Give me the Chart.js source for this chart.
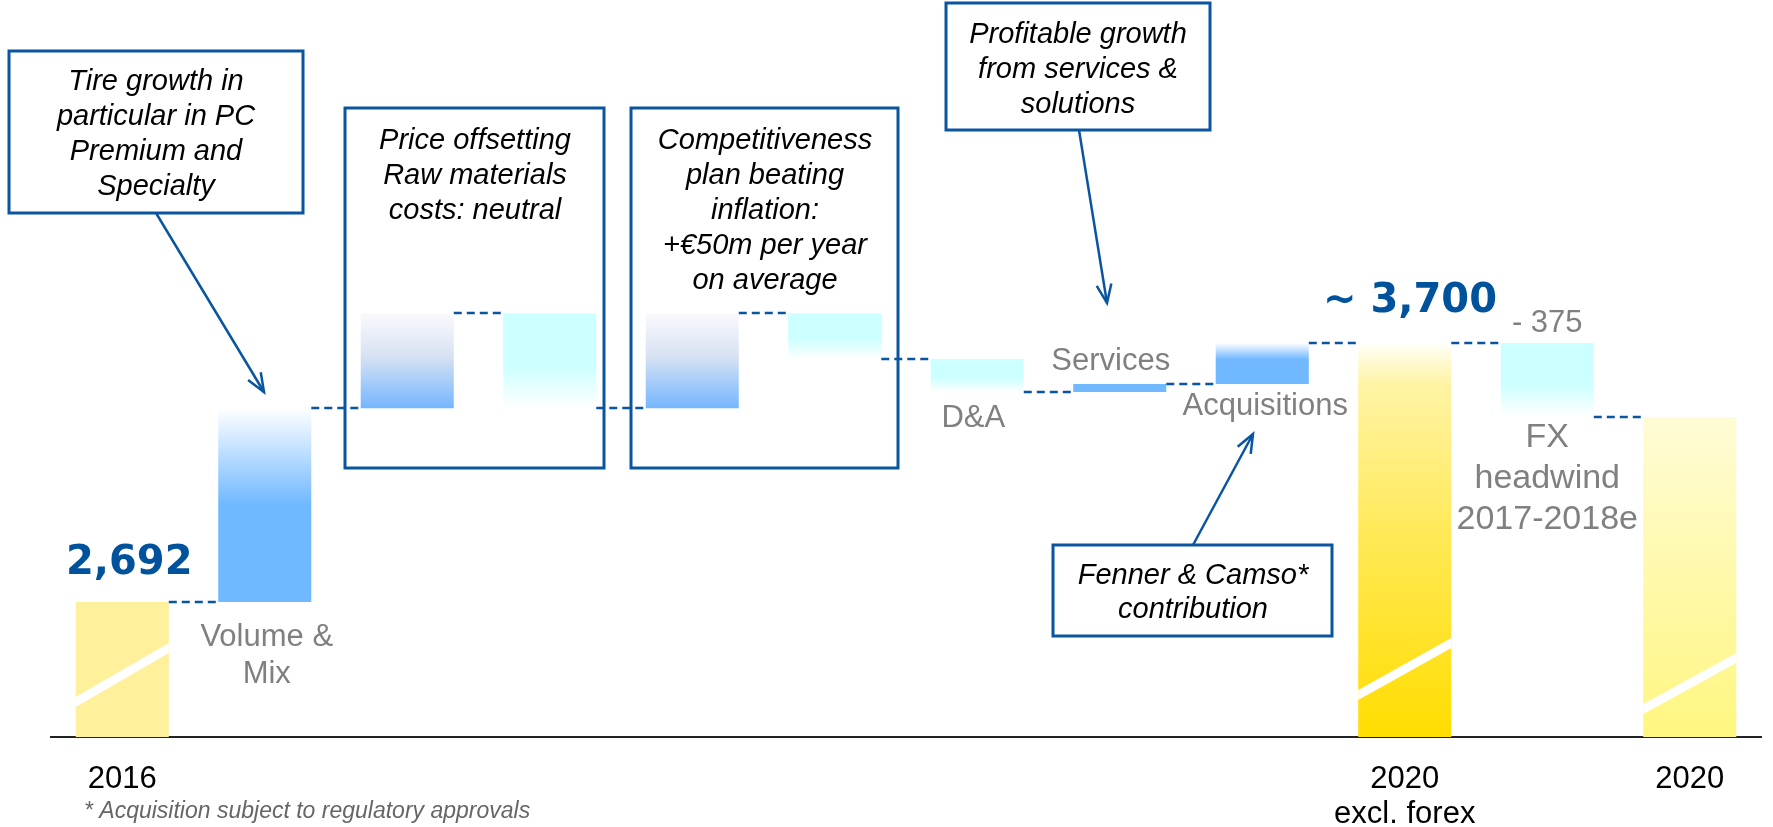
<!DOCTYPE html>
<html>
<head>
<meta charset="utf-8">
<script src="https://cdn.jsdelivr.net/npm/chart.js@4.4.1/dist/chart.umd.min.js"></script>
<style>
html, body { margin: 0; padding: 0; background: #fff; overflow: hidden; }
canvas { display: block; }
</style>
</head>
<body>
<canvas id="bridge" width="1773" height="827"></canvas>
<script>
// EBITDA bridge 2016 -> 2020 (EUR m). Steps as drawn, axis is broken below axisBreak
const categories = ['2016', 'Volume & Mix', 'Price', 'Raw materials', 'Competitiveness', 'Inflation',
                    'D&A', 'Services', 'Acquisitions', '2020 excl. forex', 'FX', '2020'];
const steps = [2692, 754, 370, -370, 370, -179, -128, 31, 160, null, -288, null]; // null = subtotal
const tickLabels = ['2016', '', '', '', '', '', '', '', '', ['2020', 'excl. forex'], '', '2020'];
const axisBreak = 2166;
const axisTop = 5035;

// turn the steps into floating bars [from, to]
let running = 0;
const bars = steps.map((s, i) => {
    if (i === 0) { running = s; return [axisBreak, s]; }
    if (s === null) return [axisBreak, running];
    const from = running;
    running += s;
    return [from, running];
});

const BLUE = '#0A55A0';
const GREY = '#808080';

const gradients = {
    base:   [[0, '#FFF09B'], [1, '#FFF09B']],
    up:     [[0, '#FFFFFF'], [0.5, '#70B8FF'], [1, '#70B8FF']],
    upGray: [[0, '#FAFAFD'], [0.45, '#D8E2F2'], [1, '#74B6FF']],
    down:   [[0, '#CCFFFF'], [0.55, '#CCFFFF'], [1, '#FFFFFF']],
    solid:  [[0, '#70B8FF'], [1, '#70B8FF']],
    upFade: [[0, '#FFFFFF'], [0.4, '#70B8FF'], [1, '#70B8FF']],
    total:  [[0, '#FFFFFA'], [0.1, '#FFF4A6'], [0.5, '#FFE955'], [1, '#FFDD00']],
    final:  [[0, '#FFFCD6'], [1, '#FFF680']]
};
const fills = ['base', 'up', 'upGray', 'down', 'upGray', 'down', 'down', 'solid', 'upFade', 'total', 'down', 'final'];

function barFill(c) {
    const chart = c.chart;
    if (!chart.chartArea) return '#70B8FF';
    const y = chart.scales.y;
    const [a, b] = bars[c.dataIndex];
    const top = y.getPixelForValue(Math.max(a, b));
    const bot = y.getPixelForValue(Math.min(a, b));
    const g = chart.ctx.createLinearGradient(0, top, 0, bot + 0.01);
    gradients[fills[c.dataIndex]].forEach(([p, col]) => g.addColorStop(p, col));
    return g;
}

// white "axis break" stripes and dashed connectors between bars
const bridgeLines = {
    id: 'bridgeLines',
    afterDatasetsDraw(chart) {
        const ctx = chart.ctx;
        const meta = chart.getDatasetMeta(0);
        const y = chart.scales.y;
        ctx.save();

        const stripes = { 0: [35, 89], 9: [42, 94], 11: [28, 79] };
        ctx.fillStyle = '#FFFFFF';
        Object.keys(stripes).forEach(k => {
            const bar = meta.data[k];
            const l = bar.x - bar.width / 2, r = bar.x + bar.width / 2;
            const yl = bar.base - stripes[k][0], yr = bar.base - stripes[k][1];
            ctx.beginPath();
            ctx.moveTo(l, yl - 5); ctx.lineTo(r, yr - 5);
            ctx.lineTo(r, yr + 5); ctx.lineTo(l, yl + 5);
            ctx.closePath();
            ctx.fill();
        });

        ctx.strokeStyle = BLUE;
        ctx.lineWidth = 2.5;
        ctx.setLineDash([8, 5]);
        for (let i = 0; i < meta.data.length - 1; i++) {
            const cur = meta.data[i], next = meta.data[i + 1];
            const level = Math.round(y.getPixelForValue(bars[i][1]));
            ctx.beginPath();
            ctx.moveTo(cur.x + cur.width / 2, level);
            ctx.lineTo(next.x - next.width / 2, level);
            ctx.stroke();
        }
        ctx.restore();
    }
};

function arrow(ctx, x1, y1, x2, y2) {
    ctx.beginPath(); ctx.moveTo(x1, y1); ctx.lineTo(x2, y2); ctx.stroke();
    const a = Math.atan2(y2 - y1, x2 - x1), len = 20, spread = 0.38;
    ctx.beginPath();
    ctx.moveTo(x2 - len * Math.cos(a - spread), y2 - len * Math.sin(a - spread));
    ctx.lineTo(x2, y2);
    ctx.lineTo(x2 - len * Math.cos(a + spread), y2 - len * Math.sin(a + spread));
    ctx.stroke();
}

function textLines(ctx, lines, x, y0, step) {
    lines.forEach((t, i) => ctx.fillText(t, x, y0 + i * step));
}

// callout boxes, arrows, bar captions and footnote
const notes = {
    id: 'notes',
    afterDraw(chart) {
        const ctx = chart.ctx;
        const xs = chart.scales.x;
        const cx = i => xs.getPixelForValue(i);
        ctx.save();

        // callout boxes
        ctx.strokeStyle = BLUE;
        ctx.lineWidth = 3;
        [[9, 51, 294, 162], [345, 108, 259, 360], [631, 108, 267, 360], [946, 3, 264, 127], [1053, 545, 279, 91]]
            .forEach(([x, y, w, h]) => ctx.strokeRect(x, y, w, h));

        ctx.lineWidth = 2.5;
        arrow(ctx, 156, 213, 264, 392);
        arrow(ctx, 1079, 130, 1107, 303);
        arrow(ctx, 1193, 545, 1253, 434);

        ctx.fillStyle = '#000';
        ctx.textAlign = 'center';
        ctx.textBaseline = 'alphabetic';
        ctx.font = 'italic 29px "Liberation Sans", Arial, sans-serif';
        textLines(ctx, ['Tire growth in', 'particular in PC', 'Premium and', 'Specialty'], 156, 90, 35);
        textLines(ctx, ['Price offsetting', 'Raw materials', 'costs: neutral'], 475, 149, 35);
        textLines(ctx, ['Competitiveness', 'plan beating', 'inflation:', '+€50m per year', 'on average'], 765, 149, 35);
        textLines(ctx, ['Profitable growth', 'from services &', 'solutions'], 1078, 43, 35);
        textLines(ctx, ['Fenner & Camso*', 'contribution'], 1193, 584, 34);

        // bar captions
        ctx.fillStyle = GREY;
        ctx.font = '31px "Liberation Sans", Arial, sans-serif';
        textLines(ctx, ['Volume &', 'Mix'], cx(1) + 2, 646, 37);
        ctx.fillText('D&A', cx(6) - 4, 427);
        ctx.fillText('Services', cx(7) - 9, 370);
        ctx.fillText('Acquisitions', cx(8) + 3, 415);
        ctx.fillText('- 375', cx(10), 332);
        ctx.font = '34px "Liberation Sans", Arial, sans-serif';
        textLines(ctx, ['FX', 'headwind', '2017-2018e'], cx(10), 447, 41);

        // headline values
        ctx.fillStyle = '#00529C';
        ctx.font = 'bold 40px "DejaVu Sans", sans-serif';
        ctx.textAlign = 'left';
        ctx.fillText('2,692', 66, 574);
        ctx.fillText('~ 3,700', 1323, 312);

        // footnote
        ctx.fillStyle = '#666';
        ctx.font = 'italic 23px "Liberation Sans", Arial, sans-serif';
        ctx.fillText('* Acquisition subject to regulatory approvals', 84, 818);
        ctx.restore();
    }
};

new Chart(document.getElementById('bridge'), {
    type: 'bar',
    data: {
        labels: categories,
        datasets: [{
            data: bars,
            backgroundColor: barFill,
            borderWidth: 0,
            barPercentage: 0.653,
            categoryPercentage: 1
        }]
    },
    options: {
        responsive: false,
        animation: false,
        devicePixelRatio: 1,
        layout: { padding: { left: 51, right: 12, top: 0, bottom: 0 } },
        plugins: { legend: { display: false }, tooltip: { enabled: false } },
        scales: {
            x: {
                grid: { display: false, drawTicks: false },
                border: { display: true, color: '#222', width: 2 },
                ticks: {
                    autoSkip: false,
                    maxRotation: 0,
                    padding: 25,
                    color: '#000',
                    font: { family: '"Liberation Sans", Arial, sans-serif', size: 31, lineHeight: 1.13 },
                    callback: (v, i) => tickLabels[i]
                },
                afterFit: s => { s.height = 90; }
            },
            y: { display: false, min: axisBreak, max: axisTop }
        }
    },
    plugins: [bridgeLines, notes]
});
</script>
</body>
</html>
